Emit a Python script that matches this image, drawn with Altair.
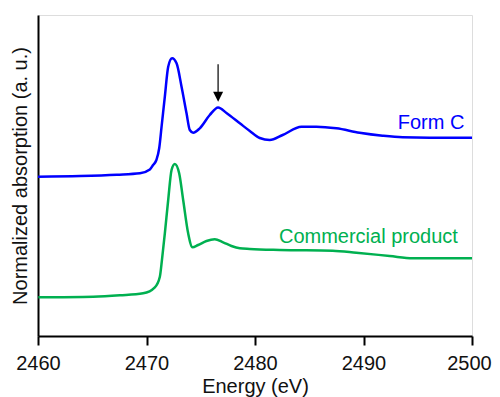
import altair as alt
import pandas as pd

# Form C (blue) spectrum, offset arbitrary units
formc_energy = [2460.00, 2463.87, 2467.27, 2469.39, 2470.31, 2470.61, 2470.91, 2471.17, 2471.39,
                2471.69, 2472.00, 2472.36, 2472.77, 2473.23, 2473.69, 2473.99, 2474.30, 2474.91,
                2475.83, 2476.60, 2477.37, 2478.60, 2479.52, 2480.44, 2481.36, 2482.55, 2484.28,
                2485.66, 2487.50, 2489.64, 2491.76, 2493.60, 2496.09, 2500.00]
formc_abs = [159.3, 160.0, 161.3, 162.7, 166.5, 171.0, 176.0, 187.7, 209.3,
             239.3, 269.3, 277.7, 272.7, 249.3, 222.7, 206.0, 203.3, 207.7,
             221.0, 228.5, 223.0, 212.7, 205.0, 198.0, 196.0, 201.0, 209.3,
             209.3, 207.7, 203.3, 200.3, 198.7, 198.3, 198.3]

# Commercial product (green) spectrum
comm_energy = [2460.03, 2465.09, 2467.55, 2469.69, 2470.77, 2471.23, 2471.44, 2471.69, 2472.00,
               2472.31, 2472.61, 2473.01, 2473.38, 2473.84, 2474.24, 2474.76, 2475.53, 2476.29,
               2477.06, 2477.83, 2478.60, 2479.52, 2482.28, 2487.16, 2489.34, 2492.41, 2494.55,
               2500.00]
comm_abs = [38.7, 39.3, 40.7, 42.7, 48.7, 59.3, 77.7, 102.7, 136.0,
            166.0, 172.0, 162.7, 136.0, 102.7, 88.7, 91.0, 95.0, 96.7,
            93.7, 90.0, 87.7, 87.0, 86.0, 85.3, 83.3, 80.0, 77.7,
            77.7]

x_ticks = [2460, 2470, 2480, 2490, 2500]

label_text = ["Form C", "Commercial product"]
label_x = [2499.3, 2498.7]
label_y = [206.7, 92.7]
label_color = ["#0000FF", "#00B050"]

arrow_x = 2476.6
arrow_top = 271.7
arrow_bottom = 244.0
arrow_head_y = 239.3

FONT = "Liberation Sans"

df = pd.concat([
    pd.DataFrame({"energy": formc_energy, "abs": formc_abs, "series": "Form C"}),
    pd.DataFrame({"energy": comm_energy, "abs": comm_abs, "series": "Commercial product"}),
])
labels = pd.DataFrame({"text": label_text, "x": label_x, "y": label_y, "color": label_color})
arrow_line = pd.DataFrame({"x": [arrow_x], "y": [arrow_top], "y2": [arrow_bottom]})
arrow_head = pd.DataFrame({"x": [arrow_x], "y": [arrow_head_y]})

xscale = alt.Scale(domain=[2460, 2500], nice=False, zero=False)
yscale = alt.Scale(domain=[0, 321], nice=False, zero=False)

xaxis = alt.Axis(values=x_ticks, title="Energy (eV)", grid=False, format="d",
                 domainColor="black", domainWidth=2, ticks=True, tickColor="black", tickWidth=2,
                 tickSize=9, labelFont=FONT, labelFontSize=20, labelColor="#111", labelPadding=8,
                 labelFlush=False,
                 labelOffset={"condition": {"test": "datum.value == 2500", "value": -3}, "value": 0},
                 titleFont=FONT, titleFontSize=20, titleFontWeight="normal", titleColor="#111",
                 titlePadding=3)
yaxis = alt.Axis(title="Normalized absorption (a. u.)", grid=False, labels=False, ticks=False,
                 domainColor="black", domainWidth=2,
                 titleFont=FONT, titleFontSize=20, titleFontWeight="normal", titleColor="#111",
                 titlePadding=8)

lines = alt.Chart(df).mark_line(strokeWidth=2.5, interpolate="monotone").encode(
    x=alt.X("energy:Q", scale=xscale, axis=xaxis),
    y=alt.Y("abs:Q", scale=yscale, axis=yaxis),
    color=alt.Color("series:N", scale=alt.Scale(domain=["Form C", "Commercial product"],
                                                range=["#0000FF", "#00B050"]), legend=None),
    detail="series:N",
)

texts = alt.Chart(labels).mark_text(align="right", baseline="alphabetic", font=FONT, fontSize=20).encode(
    x=alt.X("x:Q", scale=xscale),
    y=alt.Y("y:Q", scale=yscale),
    text="text:N",
    color=alt.Color("color:N", scale=None),
)

arrow_rule = alt.Chart(arrow_line).mark_rule(color="#333", strokeWidth=1.5).encode(
    x=alt.X("x:Q", scale=xscale),
    y=alt.Y("y:Q", scale=yscale),
    y2="y2:Q",
)
arrow_tip = alt.Chart(arrow_head).mark_point(shape="M-1,-1L1,-1L0,1Z", size=100, filled=True,
                                             color="black", opacity=1).encode(
    x=alt.X("x:Q", scale=xscale),
    y=alt.Y("y:Q", scale=yscale),
)

chart = alt.layer(lines, arrow_rule, arrow_tip, texts).properties(
    width=434, height=321,
    autosize=alt.AutoSizeParams(type="none"),
    padding={"left": 30, "top": 7, "right": 20, "bottom": 62},
).configure_view(stroke="#333", strokeWidth=1.5).configure(background="white")

chart.save("out.html", embed_options={"renderer": "svg", "actions": False})
